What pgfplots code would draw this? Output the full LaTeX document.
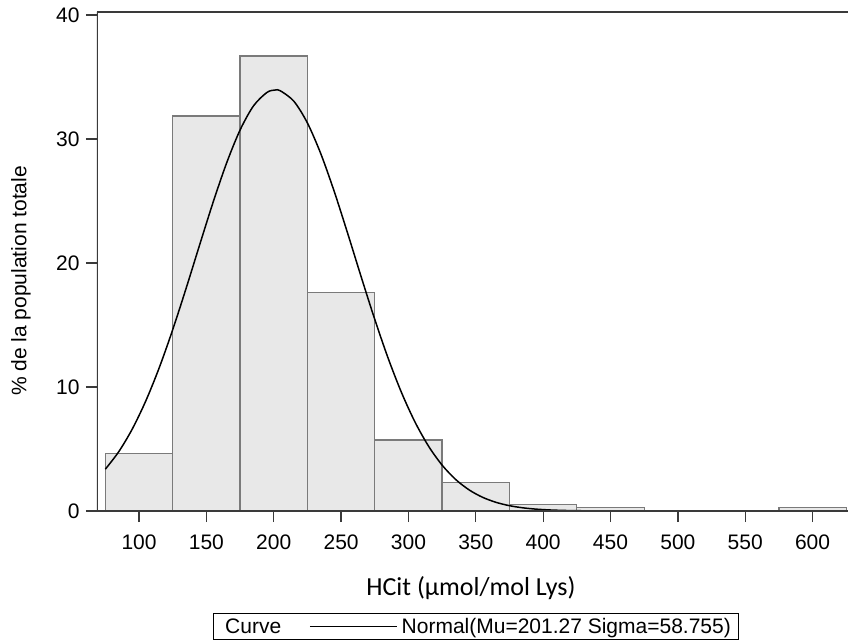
\documentclass[border=0pt]{standalone}
\usepackage{pgfplots}
\pgfplotsset{compat=1.18}
\usepackage{fontspec}
\setmainfont{Liberation Sans}
\newfontfamily\calibri{Carlito}

\definecolor{axisgray}{HTML}{3A3A3A}
\definecolor{barfill}{HTML}{E8E8E8}
\definecolor{baredge}{HTML}{7A7A7A}

\begin{document}
\begin{tikzpicture}
\begin{axis}[
    name=ax,
    at={(0,0)}, anchor=south west,
    scale only axis,
    width=751pt, height=499pt,
    xmin=68.8, xmax=626.3,
    ymin=0, ymax=40.24,
    xtick={100,150,...,600},
    ytick={0,10,20,30,40},
    xtick pos=left, ytick pos=left,
    tick align=outside,
    major tick length=11pt,
    tick style={axisgray, line width=1.3pt},
    axis line style={draw=none},
    /pgf/number format/assume math mode=true,
    ticklabel style={font=\fontsize{21}{25}\selectfont},
    xticklabel style={yshift=-9pt},
    yticklabel style={xshift=-3pt},
    every axis y label/.style={at={(axis description cs:-0.1012,0.461)}, rotate=90, anchor=center},
    every axis x label/.style={at={(axis description cs:0.498,-0.1703)}, anchor=base},
    ylabel={\fontsize{21}{25}\selectfont \% de la population totale},
    xlabel={\calibri\fontsize{26}{30}\selectfont HCit (µmol/mol Lys)},
    legend columns=2,
    legend style={
        at={(axis description cs:0.5047,-0.2315)}, anchor=center,
        draw=black, line width=1.2pt,
        inner xsep=8pt, inner ysep=4.5pt,
        font=\fontsize{21}{25}\selectfont,
        nodes={inner sep=0pt},
        /tikz/every odd column/.append style={column sep=4pt},
        /tikz/every even column/.append style={column sep=28pt},
    },
    legend image code/.code={\draw[#1] (0pt,0pt) -- (87pt,0pt);},
]

% histogram bins, width 50
\addplot[ybar, bar width=50, fill=barfill, draw=baredge, line width=1.3pt, forget plot]
    coordinates {(100,4.65) (150,31.85) (200,36.7) (250,17.6) (300,5.72)
                 (350,2.3) (400,0.54) (450,0.27) (600,0.27)};

\addlegendimage{empty legend}
\addlegendentry{Curve}

% fitted normal, Mu=201.27 Sigma=58.755 (values read at each x)
\addplot[black, line width=1.5pt, smooth] coordinates {
    (75,3.372) (85,4.791) (95,6.614) (105,8.870) (115,11.553) (125,14.619)
    (135,17.972) (145,21.463) (155,24.899) (165,28.060) (175,30.721)
    (185,32.673) (195,33.757) (201.27,33.95) (205,33.881) (215,33.036)
    (225,31.291) (235,28.792) (245,25.737) (255,22.349) (265,18.852)
    (275,15.449) (285,12.298) (295,9.511) (305,7.145) (315,5.215)
    (325,3.697) (335,2.547) (345,1.704) (355,1.107) (365,0.699)
    (375,0.429) (385,0.256) (395,0.148) (405,0.083) (415,0.046)
    (425,0.024) (450,0.004) (500,0) (550,0) (625,0)};
\addlegendentry{Normal(Mu=201.27 Sigma=58.755)}

\draw[axisgray, line width=1.5pt] (rel axis cs:0,1) -- (rel axis cs:0,0) -- (rel axis cs:1,0);
\draw[axisgray, line width=1.5pt] (rel axis cs:0,1) -- (rel axis cs:1,1);
\end{axis}
\pgfresetboundingbox
\path (-97pt,-131pt) rectangle (751pt,511pt);
\end{tikzpicture}
\end{document}
